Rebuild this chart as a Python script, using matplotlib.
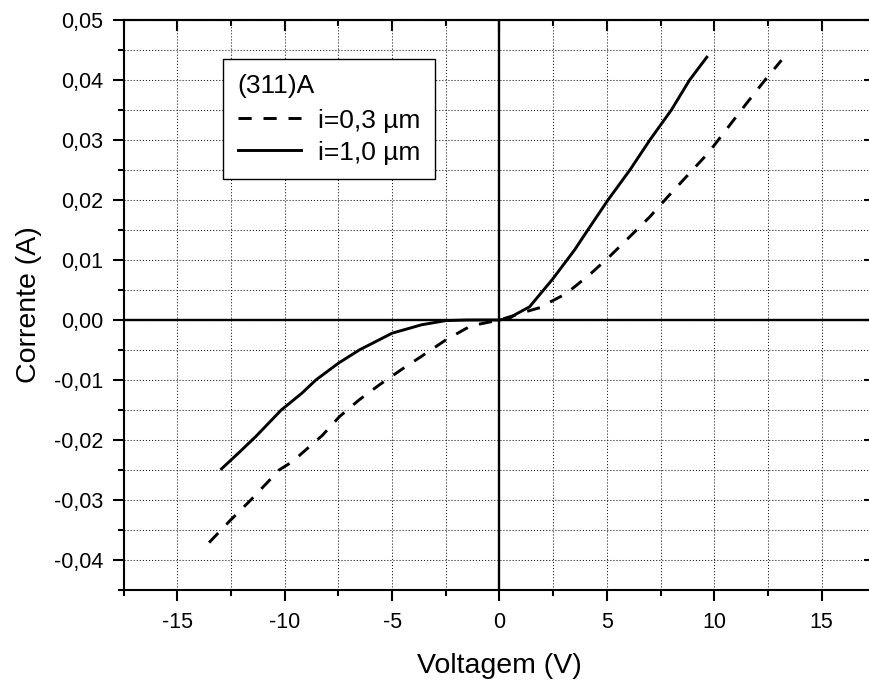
import matplotlib
matplotlib.use("Agg")
import matplotlib.pyplot as plt
from matplotlib.ticker import MultipleLocator, FuncFormatter

plt.rcParams['font.family'] = ['Liberation Sans', 'DejaVu Sans']
plt.rcParams['lines.scale_dashes'] = False

# i = 1,0 um (solid)
solid_v = [-12.94, -12.1, -11.34, -10.16, -9.2, -8.55, -7.5, -6.53, -5.0, -3.63, -2.5,
           -1.5, 0.0, 0.47, 0.78, 1.4, 2.47, 3.5, 4.11, 5.05, 6.07, 7.0, 8.0, 8.85, 9.65]
solid_i = [-0.0248, -0.0220, -0.0194, -0.0150, -0.0122, -0.0100, -0.0072, -0.0050,
           -0.0022, -0.0008, -0.0001, 0.0, 0.0, 0.0003, 0.0010, 0.0022, 0.0068,
           0.0117, 0.0150, 0.0200, 0.0250, 0.0300, 0.0350, 0.0400, 0.0438]

# i = 0,3 um (dashed)
dashed_v = [-13.52, -12.59, -11.58, -10.26, -9.64, -8.24, -7.45, -6.53, -5.59, -4.5,
            -3.65, -2.49, -1.4, -1.09, 0.0, 1.24, 2.02, 2.25, 3.11, 4.27, 5.13, 6.07,
            7.0, 7.85, 8.78, 9.71, 11.5, 12.43, 13.13]
dashed_i = [-0.0371, -0.0336, -0.0300, -0.0250, -0.0236, -0.0192, -0.0161, -0.0133,
            -0.0108, -0.0081, -0.0061, -0.0033, -0.0011, -0.0008, 0.0, 0.0014, 0.0022,
            0.0028, 0.0044, 0.0078, 0.0106, 0.0139, 0.0172, 0.0206, 0.0242, 0.0278,
            0.0361, 0.0403, 0.0433]

legend_title = "(311)A"
label_dashed = "i=0,3 \u00b5m"
label_solid = "i=1,0 \u00b5m"

W, H = 870, 680
fig = plt.figure(figsize=(W / 100, H / 100), dpi=100)
left_px, right_px, top_px, bottom_px = 123.6, 875.4, 20, 590
ax = fig.add_axes([left_px / W, 1 - bottom_px / H,
                   (right_px - left_px) / W, (bottom_px - top_px) / H])
ax.set_xlim(-17.5, 17.5)
ax.set_ylim(-0.045, 0.05)

ax.xaxis.set_major_locator(MultipleLocator(5))
ax.xaxis.set_minor_locator(MultipleLocator(2.5))
ax.yaxis.set_major_locator(MultipleLocator(0.01))
ax.yaxis.set_minor_locator(MultipleLocator(0.005))
ax.xaxis.set_major_formatter(FuncFormatter(lambda v, p: f"{v:.0f}"))
ax.yaxis.set_major_formatter(FuncFormatter(
    lambda v, p: f"{v:.2f}".replace('.', ',').replace('-0,00', '0,00')))

ax.grid(True, which='both', color='#222222', linewidth=0.75, linestyle=(0, (0.8, 1.4)))
ax.set_axisbelow(True)

for s in ax.spines.values():
    s.set_linewidth(1.5)
ax.tick_params(which='major', direction='out', length=8, width=1.5, labelsize=15.5)
ax.tick_params(which='minor', direction='out', length=4.3, width=1.5)
ax.tick_params(axis='x', pad=8)
ax.tick_params(axis='y', pad=6.5)

for loc, axis in (('top', 'x'), ('right', 'y')):
    if axis == 'x':
        sec = ax.secondary_xaxis(loc)
        sec.xaxis.set_major_locator(MultipleLocator(5))
        sec.xaxis.set_minor_locator(MultipleLocator(2.5))
    else:
        sec = ax.secondary_yaxis(loc)
        sec.yaxis.set_major_locator(MultipleLocator(0.01))
        sec.yaxis.set_minor_locator(MultipleLocator(0.005))
    sec.tick_params(which='major', direction='in', length=8, width=1.5,
                    labeltop=False, labelright=False)
    sec.tick_params(which='minor', direction='in', length=4.3, width=1.5)
    sec.spines[loc].set_linewidth(1.5)

ax.axhline(0, color='black', linewidth=1.7, zorder=3)
ax.axvline(0, color='black', linewidth=1.7, zorder=3)

l1, = ax.plot(dashed_v, dashed_i, color='black', linewidth=2.1,
              dashes=(9.5, 8.5), label=label_dashed, zorder=4)
l2, = ax.plot(solid_v, solid_i, color='black', linewidth=2.1,
              label=label_solid, zorder=4)

ax.set_xlabel("Voltagem (V)", fontsize=20.5, labelpad=14)
ax.set_ylabel("Corrente (A)", fontsize=20.5, labelpad=9)

leg = ax.legend(handles=[l1, l2], title=legend_title, loc='upper left',
                bbox_to_anchor=(223 / W, 1 - 59 / H), bbox_transform=fig.transFigure,
                borderaxespad=0, fontsize=19, title_fontsize=19, fancybox=False,
                framealpha=1, edgecolor='black', handlelength=2.4, handletextpad=0.65,
                labelspacing=0.3, borderpad=0.55, alignment='left')
leg.get_frame().set_linewidth(1.0)
leg._legend_box.sep = 8

fig.savefig("out.png", dpi=100)
